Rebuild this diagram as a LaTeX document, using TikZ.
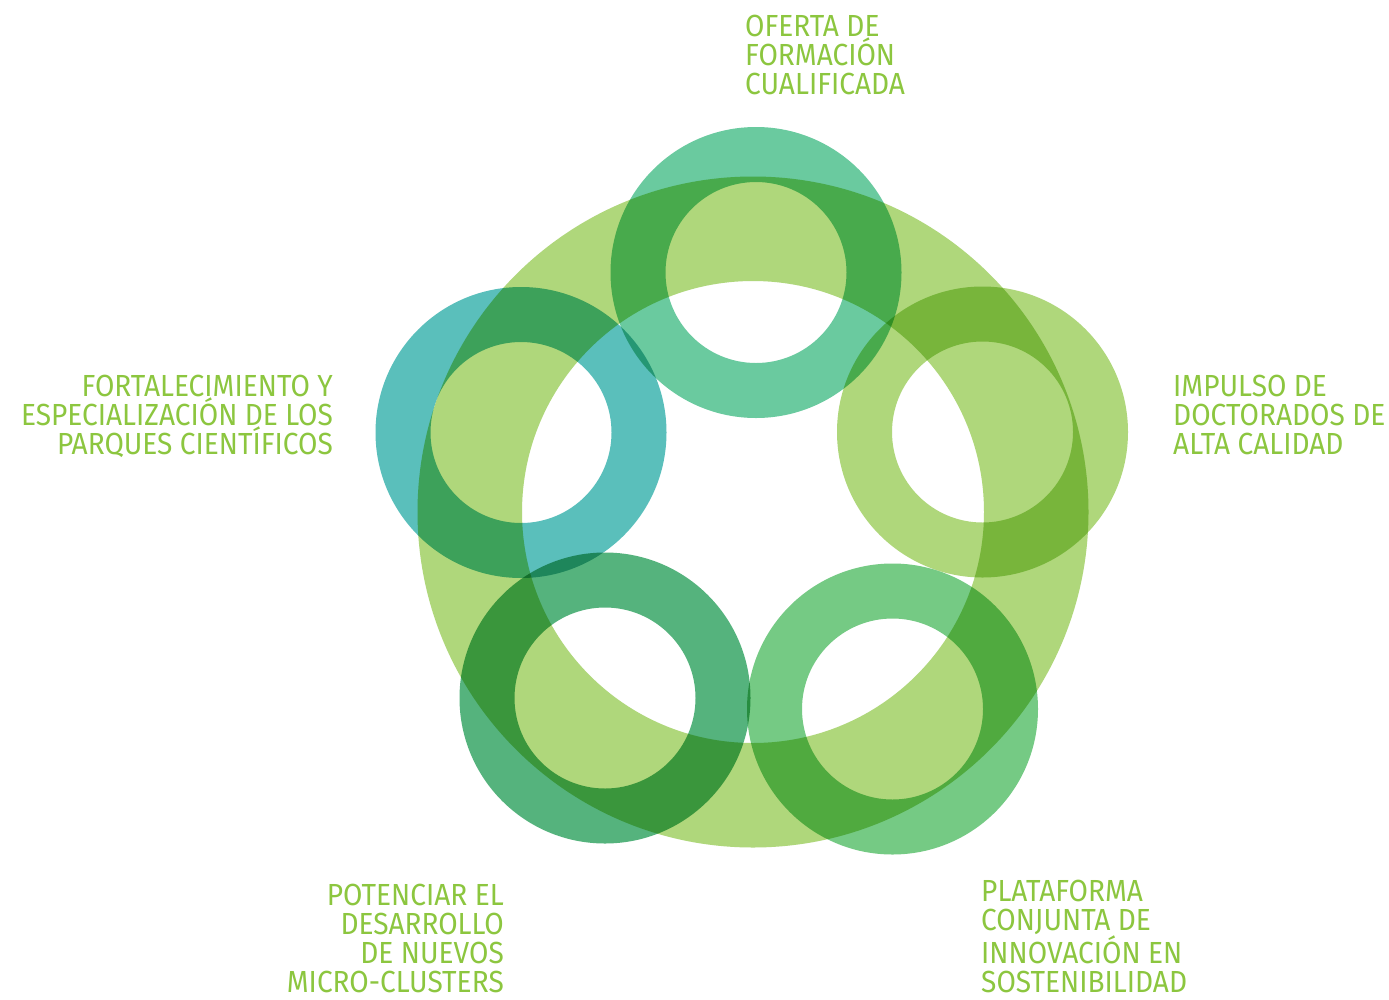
\documentclass[tikz,border=0pt]{standalone}
\usepackage{fontspec}
\setmainfont{Fira Sans}[FakeStretch=0.92]
\definecolor{txtgreen}{HTML}{8CC63F}
\definecolor{bigring}{HTML}{AFD77B}
\definecolor{ringtop}{HTML}{6ACA9F}
\definecolor{ringright}{HTML}{AFD77B}
\definecolor{ringbr}{HTML}{75CA84}
\definecolor{ringbl}{HTML}{55B37D}
\definecolor{ringleft}{HTML}{5ABFBB}
\tikzset{
  ring/.style={blend mode=multiply, even odd rule},
  lbl/.style={text=txtgreen, inner sep=0pt, font=\fontsize{30.5}{29}\selectfont},
  lblL/.style={lbl, align=left, anchor=base west},
  lblR/.style={lbl, align=right, anchor=base east},
}
\begin{document}
\begin{tikzpicture}[x=1pt,y=-1pt]
\fill[white] (0,0) rectangle (1389,999);
\useasboundingbox (0,0) rectangle (1389,999);
\coordinate (cbig) at (753,512);
\coordinate (ctop) at (756,272.5);
\coordinate (cright) at (982.5,432);
\coordinate (cbr) at (892.5,709);
\coordinate (cbl) at (605,698);
\coordinate (cleft) at (521,432.5);
\fill[ring, bigring] (cbig) circle (335.5pt) (cbig) circle (231pt);
\fill[ring, ringtop] (ctop) circle (145.5pt) (ctop) circle (90.5pt);
\fill[ring, ringright] (cright) circle (145.5pt) (cright) circle (90.5pt);
\fill[ring, ringbr] (cbr) circle (145.5pt) (cbr) circle (90.5pt);
\fill[ring, ringbl] (cbl) circle (145.5pt) (cbl) circle (90.5pt);
\fill[ring, ringleft] (cleft) circle (145.5pt) (cleft) circle (90.5pt);
\node[lblL] (ltop) at (745,94) {OFERTA DE\\FORMACIÓN\\CUALIFICADA};
\node[lblL] (lright) at (1173,454) {IMPULSO DE\\DOCTORADOS DE\\ALTA CALIDAD};
\node[lblR] (lleft) at (333,454) {FORTALECIMIENTO Y\\ESPECIALIZACIÓN DE LOS\\PARQUES CIENTÍFICOS};
\node[lblR] (lbl) at (504,992) {POTENCIAR EL\\DESARROLLO\\DE NUEVOS\\MICRO-CLUSTERS};
\node[lblL] (lbr) at (981,992) {PLATAFORMA\\CONJUNTA DE\\INNOVACIÓN EN\\SOSTENIBILIDAD};
\end{tikzpicture}
\end{document}
